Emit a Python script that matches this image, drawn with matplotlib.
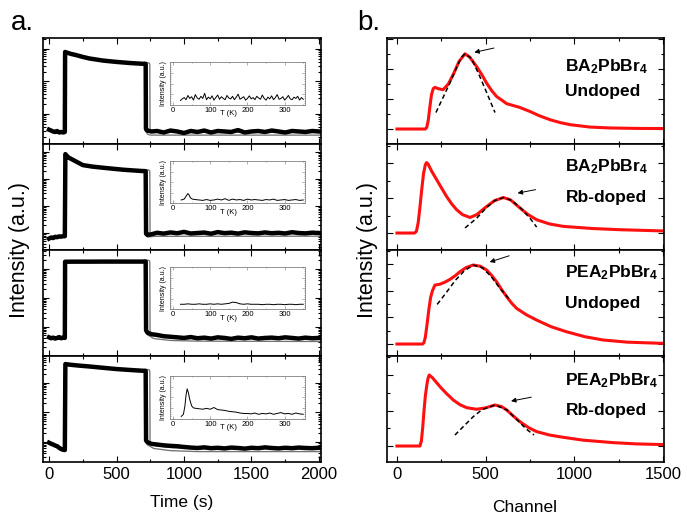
import numpy as np
import matplotlib.pyplot as plt
from matplotlib.ticker import MultipleLocator, LogLocator, NullFormatter

plt.rcParams['font.family'] = ['Liberation Sans', 'DejaVu Sans']
plt.rcParams['mathtext.fontset'] = 'custom'
plt.rcParams['mathtext.bf'] = 'Liberation Sans:bold'
plt.rcParams['mathtext.rm'] = 'Liberation Sans'

# ---- panel a: intensity vs time (log y) ----
t1 = [0, 15, 30, 45, 60, 75, 90, 105, 117, 119, 130, 160, 200, 250, 300, 400, 500, 600, 716, 718, 725,
      760] + list(range(800, 2001, 50))
y1 = [0.33, 0.31, 0.29, 0.28, 0.30, 0.27, 0.28, 0.27, 0.28, 81, 78, 71, 65, 57, 51, 44, 40, 37, 34.6, 0.35, 0.31,
      0.29, 0.30, 0.27, 0.31, 0.29, 0.26, 0.30, 0.28, 0.31, 0.27, 0.30, 0.29, 0.28, 0.32, 0.27, 0.29, 0.30, 0.28,
      0.31, 0.29, 0.27, 0.30, 0.29, 0.28, 0.30, 0.29]

t2 = [0, 15, 30, 45, 60, 75, 90, 105, 117, 121, 140, 180, 250, 320, 400, 480, 550, 630, 716, 719, 730,
      760] + list(range(800, 2001, 50))
y2 = [0.62, 0.68, 0.65, 0.72, 0.70, 0.75, 0.73, 0.77, 0.76, 843, 650, 506, 330, 290, 263, 240, 222, 208, 195,
      0.95, 0.84, 0.9, 1.02, 0.95, 1.05, 0.98, 1.1, 0.96, 1.0, 1.04, 0.94, 1.08, 0.99, 1.03, 0.95, 1.06, 1.0,
      0.97, 1.05, 0.98, 1.02, 0.96, 1.07, 1.0, 0.97, 1.03, 1.0]

t3 = [0, 15, 30, 45, 60, 75, 90, 105, 117, 119, 200, 300, 400, 500, 600, 716, 719, 730, 760] + list(range(800, 2001, 50))
y3 = [0.43, 0.40, 0.42, 0.39, 0.41, 0.44, 0.40, 0.42, 0.41, 174, 175, 175, 176, 176, 176, 176, 0.75, 0.62, 0.55,
      0.52, 0.47, 0.45, 0.43, 0.41, 0.44, 0.40, 0.42, 0.39, 0.43, 0.41, 0.38, 0.42, 0.40, 0.43, 0.39, 0.41, 0.42,
      0.40, 0.43, 0.41, 0.39, 0.42, 0.40, 0.41]

t4 = [0, 15, 30, 45, 60, 75, 90, 105, 117, 121, 160, 220, 300, 400, 500, 600, 716, 719, 730,
      760] + list(range(800, 2001, 50))
y4 = [0.92, 0.85, 0.80, 0.74, 0.70, 0.62, 0.56, 0.53, 0.52, 428, 405, 380, 354, 320, 290, 270, 250, 1.1, 0.95, 0.84,
      0.8, 0.75, 0.72, 0.70, 0.66, 0.63, 0.61, 0.64, 0.60, 0.62, 0.59, 0.63, 0.61, 0.58, 0.62, 0.60, 0.64, 0.61,
      0.59, 0.62, 0.60, 0.63, 0.61, 0.60, 0.62]

# fitted decay curves
f1_t = [716, 735, 737, 760, 2000]
f1_y = [34.6, 33.5, 0.26, 0.25, 0.25]
f2_t = [716, 735, 737, 780, 2000]
f2_y = [195, 190, 0.82, 0.86, 0.87]
f3_t = [716, 735, 737, 780, 900, 1100, 2000]
f3_y = [176, 172, 0.58, 0.44, 0.38, 0.36, 0.35]
f4_t = [716, 735, 737, 780, 900, 1100, 2000]
f4_y = [250, 245, 0.85, 0.66, 0.56, 0.52, 0.52]

# insets: intensity vs T
in1_y = [0.10, 0.14, 0.17, 0.12, 0.22, 0.15, 0.19, 0.11, 0.24, 0.16, 0.13, 0.20, 0.15, 0.27, 0.12, 0.18, 0.14,
         0.21, 0.11, 0.17, 0.23, 0.13, 0.19, 0.15, 0.12, 0.22, 0.16, 0.14, 0.20, 0.12, 0.18, 0.25, 0.13, 0.16,
         0.19, 0.11, 0.15, 0.21, 0.14, 0.17, 0.12, 0.20, 0.16, 0.13, 0.23, 0.15, 0.11, 0.18, 0.14, 0.21, 0.12,
         0.17, 0.24, 0.13, 0.15, 0.19, 0.11, 0.16, 0.22, 0.14, 0.12, 0.18, 0.15, 0.20, 0.11, 0.17, 0.13]
in1_T = list(np.linspace(20, 350, len(in1_y)))
in2_T = [22, 30, 36, 40, 43, 47, 52] + list(range(60, 351, 10))
in2_y = [0.08, 0.10, 0.18, 0.23, 0.20, 0.13, 0.10, 0.09, 0.08, 0.07, 0.09, 0.07, 0.08, 0.10, 0.08, 0.11, 0.07,
         0.10, 0.08, 0.09, 0.07, 0.10, 0.08, 0.09, 0.08, 0.07, 0.09, 0.08, 0.10, 0.07, 0.08, 0.09, 0.07, 0.08,
         0.09, 0.07, 0.08]
in3_y = [0.12, 0.12, 0.13, 0.12, 0.12, 0.13, 0.12, 0.12, 0.13, 0.12, 0.13, 0.12, 0.13, 0.14, 0.17, 0.16, 0.13,
         0.12, 0.13, 0.12, 0.12, 0.12, 0.11, 0.12, 0.12, 0.11, 0.12, 0.12, 0.11, 0.12, 0.12, 0.11, 0.12, 0.12]
in3_T = list(np.linspace(20, 350, len(in3_y)))
in4_T = [22, 28, 32, 35, 38, 41, 45, 50, 55, 62] + list(range(70, 351, 10))
in4_y = [0.05, 0.10, 0.30, 0.55, 0.70, 0.62, 0.45, 0.30, 0.25, 0.24, 0.23, 0.22, 0.24, 0.22, 0.26, 0.21, 0.20,
         0.19, 0.17, 0.16, 0.15, 0.13, 0.12, 0.12, 0.11, 0.13, 0.10, 0.12, 0.11, 0.13, 0.10, 0.12, 0.14, 0.11,
         0.12, 0.10, 0.13, 0.11, 0.10]

# ---- panel b: spectra vs channel ----
ch1 = [0, 160, 168, 177, 186, 195, 205, 215, 230, 260, 290, 320, 350, 384, 410, 449, 480, 505, 535, 562, 619, 690,
       750, 800, 863, 920, 976, 1088, 1200, 1350, 1500]
r1 = [0, 0, 0.1, 0.6, 1.5, 2.3, 2.7, 2.78, 2.7, 2.62, 3.0, 3.7, 4.5, 5.02, 4.8, 4.17, 3.6, 3.07, 2.55, 2.17, 1.69,
      1.45, 1.17, 0.9, 0.62, 0.43, 0.29, 0.13, 0.07, 0.04, 0.03]
ch2 = [0, 100, 110, 120, 130, 140, 150, 160, 167, 175, 195, 224, 250, 280, 310, 337, 370, 412, 450, 506, 550, 600,
       640, 694, 740, 788, 860, 938, 1100, 1258, 1500]
r2 = [0, 0, 0.1, 0.6, 1.5, 2.5, 3.4, 3.9, 4.03, 3.95, 3.55, 3.05, 2.6, 2.09, 1.65, 1.33, 1.05, 0.89, 1.05, 1.52,
      1.85, 2.03, 1.9, 1.43, 1.05, 0.76, 0.52, 0.38, 0.26, 0.19, 0.12]
ch3 = [0, 145, 152, 160, 170, 180, 190, 200, 214, 243, 270, 299, 330, 355, 390, 430, 470, 506, 535, 562, 590, 619,
       645, 675, 730, 788, 870, 957, 1060, 1164, 1300, 1500]
r3 = [0, 0, 0.1, 0.5, 1.5, 2.6, 3.5, 4.0, 4.43, 4.5, 4.65, 4.86, 5.15, 5.43, 5.75, 5.94, 5.85, 5.56, 5.15, 4.68,
      4.1, 3.56, 3.1, 2.68, 2.2, 1.8, 1.3, 0.92, 0.55, 0.3, 0.14, 0.05]
ch4 = [0, 130, 138, 145, 152, 160, 168, 175, 182, 200, 243, 280, 318, 355, 393, 449, 500, 553, 590, 619, 655, 694,
       740, 788, 860, 938, 1050, 1220, 1350, 1500]
r4 = [0, 0, 0.3, 1.0, 1.9, 2.8, 3.4, 3.8, 4.0, 3.85, 3.34, 2.95, 2.59, 2.33, 2.16, 2.07, 2.15, 2.31, 2.22, 2.03,
      1.7, 1.37, 1.05, 0.81, 0.62, 0.49, 0.33, 0.19, 0.12, 0.08]

# gaussian fits (dashed)
d1_ch = [220, 260, 300, 340, 365, 384, 420, 460, 500, 553]
d1 = [1.1, 2.1, 3.1, 4.2, 4.8, 5.02, 4.7, 3.7, 2.6, 1.1]
d2_ch = [384, 450, 500, 550, 600, 650, 700, 750, 788]
d2 = [0.29, 0.85, 1.4, 1.85, 2.03, 1.85, 1.4, 0.85, 0.34]
d3_ch = [227, 280, 330, 380, 430, 480, 530, 580, 634]
d3 = [2.98, 3.9, 4.8, 5.5, 5.94, 5.75, 5.1, 4.2, 3.36]
d4_ch = [327, 380, 430, 480, 553, 620, 680, 730, 773]
d4 = [0.62, 1.15, 1.65, 2.05, 2.31, 2.03, 1.45, 0.95, 0.62]

names = [r'$\mathbf{BA_2PbBr_4}$', r'$\mathbf{BA_2PbBr_4}$', r'$\mathbf{PEA_2PbBr_4}$', r'$\mathbf{PEA_2PbBr_4}$']
kinds = ['Undoped', 'Rb-doped', 'Undoped', 'Rb-doped']
name_y = [3.84, 3.52, 4.98, 3.44]
kind_y = [2.22, 1.77, 2.73, 1.75]
arrow_tail = [(562, 5.44), (797, 2.51), (648, 6.7), (773, 2.78)]
arrow_tip = [(421, 5.07), (665, 2.25), (508, 6.1), (628, 2.5)]

W, H = 687, 524


def px_rect(x0, y0, w, h):
    return [x0 / W, 1 - (y0 + h) / H, w / W, h / H]


fig = plt.figure(figsize=(W / 100, H / 100), dpi=100)

left_t = [t1, t2, t3, t4]
left_y = [y1, y2, y3, y4]
fit_t = [f1_t, f2_t, f3_t, f4_t]
fit_y = [f1_y, f2_y, f3_y, f4_y]
left_ylim = [(10 ** -0.923, 10 ** 2.338), (10 ** -0.63, 10 ** 3.3), (10 ** -1.01, 10 ** 2.645), (10 ** -0.69, 10 ** 2.905)]
ins_T = [in1_T, in2_T, in3_T, in4_T]
ins_y = [in1_y, in2_y, in3_y, in4_y]
ins_bottom = [0.37, 0.44, 0.44, 0.41]

for i in range(4):
    ax = fig.add_axes(px_rect(42.7, 38 + 106 * i, 278, 106))
    ax.set_yscale('log')
    ax.plot(fit_t[i], fit_y[i], color='0.45', lw=3.2, zorder=2)
    ax.plot(fit_t[i], fit_y[i], color='white', lw=1.3, zorder=2)
    ax.plot(left_t[i], left_y[i], color='black', lw=3.2, zorder=3)
    ax.set_xlim(-47, 2013)
    ax.set_ylim(*left_ylim[i])
    ax.xaxis.set_major_locator(MultipleLocator(500))
    ax.xaxis.set_minor_locator(MultipleLocator(250))
    ax.yaxis.set_major_locator(LogLocator(base=10, numticks=10))
    ax.yaxis.set_minor_locator(LogLocator(base=10, subs=np.arange(2, 10), numticks=20))
    ax.yaxis.set_major_formatter(NullFormatter())
    ax.yaxis.set_minor_formatter(NullFormatter())
    ax.tick_params(which='both', direction='in', top=True, right=True, labelsize=12, width=0.8)
    ax.tick_params(which='major', length=4)
    ax.tick_params(which='minor', length=2.5)
    ax.tick_params(labelbottom=(i == 3))
    for s in ax.spines.values():
        s.set_linewidth(1.2)

    ins = ax.inset_axes([0.458, ins_bottom[i], 0.486, 0.40])
    ins.plot(ins_T[i], ins_y[i], color='black', lw=0.7)
    ins.set_xlim(-8, 355)
    ins.set_ylim(0, 1)
    ins.set_xticks([0, 100, 200, 300])
    ins.xaxis.set_minor_locator(MultipleLocator(50))
    ins.yaxis.set_major_locator(MultipleLocator(0.25))
    ins.yaxis.set_minor_locator(MultipleLocator(0.05))
    ins.set_yticklabels([])
    ins.tick_params(which='both', direction='in', top=True, right=True, labelsize=5.5, pad=1.5,
                    width=0.4, colors='0.45', labelcolor='black')
    ins.tick_params(which='major', length=2)
    ins.tick_params(which='minor', length=1)
    for s in ins.spines.values():
        s.set_linewidth(0.6)
        s.set_color('0.5')
    ins.set_ylabel('Intensity (a.u.)', fontsize=5, labelpad=1)
    ins.text(0.435, -0.13, 'T (K)', transform=ins.transAxes, fontsize=5.5, ha='center', va='top')

right_ch = [ch1, ch2, ch3, ch4]
right_r = [r1, r2, r3, r4]
dash_ch = [d1_ch, d2_ch, d3_ch, d4_ch]
dash_r = [d1, d2, d3, d4]
right_ylim = [(-1.0, 6.07), (-0.97, 5.09), (-0.9, 7.07), (-0.9, 5.07)]

for i in range(4):
    ax = fig.add_axes(px_rect(387, 38 + 106 * i, 277, 106))
    ax.plot(right_ch[i], right_r[i], color='#ff1010', lw=2.2, zorder=2)
    ax.plot(dash_ch[i], dash_r[i], color='black', lw=1.1, ls=(0, (3, 2)), zorder=3)
    ax.annotate('', xy=arrow_tip[i], xytext=arrow_tail[i],
                arrowprops=dict(arrowstyle='-|>', lw=0.7, color='black', mutation_scale=7))
    ax.text(950, name_y[i], names[i], fontsize=12.5, ha='left', va='baseline')
    ax.text(950, kind_y[i], kinds[i], fontsize=12.5, fontweight='bold', ha='left', va='baseline')
    ax.set_xlim(-56, 1506)
    ax.set_ylim(*right_ylim[i])
    ax.xaxis.set_major_locator(MultipleLocator(500))
    ax.xaxis.set_minor_locator(MultipleLocator(250))
    ax.yaxis.set_major_locator(MultipleLocator(2))
    ax.yaxis.set_minor_locator(MultipleLocator(1))
    ax.set_yticklabels([])
    ax.tick_params(which='both', direction='in', top=True, right=True, labelsize=12, width=0.8)
    ax.tick_params(which='major', length=4)
    ax.tick_params(which='minor', length=2.5)
    ax.tick_params(labelbottom=(i == 3))
    for s in ax.spines.values():
        s.set_linewidth(1.2)

fig.text(20 / W, 1 - 250 / H, 'Intensity (a.u.)', rotation=90, fontsize=15.5, ha='center', va='center')
fig.text(368 / W, 1 - 250 / H, 'Intensity (a.u.)', rotation=90, fontsize=15.5, ha='center', va='center')
fig.text(182 / W, 1 - 506.7 / H, 'Time (s)', fontsize=12.5, ha='center', va='baseline')
fig.text(525 / W, 1 - 511.7 / H, 'Channel', fontsize=12.5, ha='center', va='baseline')
fig.text(11 / W, 1 - 30 / H, 'a.', fontsize=20, ha='left', va='baseline')
fig.text(357 / W, 1 - 30 / H, 'b.', fontsize=20, ha='left', va='baseline')

fig.savefig('out.png', dpi=100)
